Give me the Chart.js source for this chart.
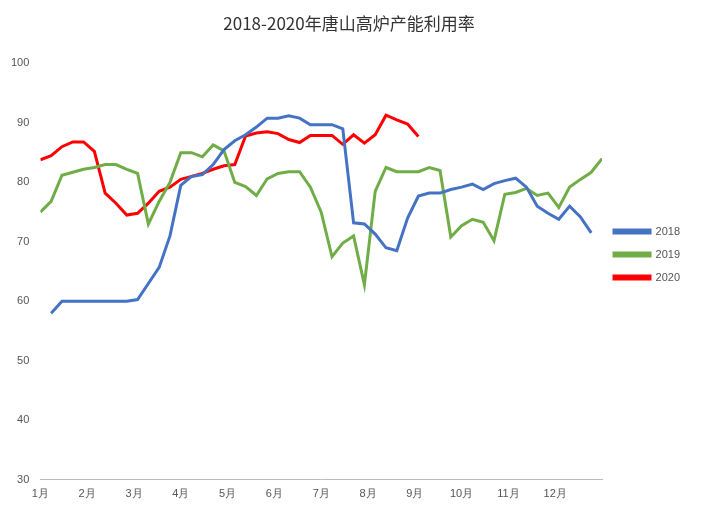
<!DOCTYPE html>
<html><head><meta charset="utf-8">
<script src="https://cdn.jsdelivr.net/npm/chart.js@4"></script>
<style>body{margin:0;background:#fff}#w{width:710px;height:518px}</style>
</head><body><div id="w"><canvas id="c"></canvas></div>
<script>
const months=['1月','2月','3月','4月','5月','6月','7月','8月','9月','10月','11月','12月'];
const s2018=[null,58,60,60,60,60,60,60,60,60.3,63,65.7,71,79.5,81,81.3,83,85.5,87,88,89.3,90.8,90.8,91.2,90.8,89.7,89.7,89.7,89,73.2,73,71.3,69,68.5,74,77.7,78.2,78.2,78.8,79.2,79.7,78.8,79.8,80.3,80.7,79.2,76,74.8,73.8,76,74.2,71.5];
const s2019=[75,76.8,81.2,81.7,82.2,82.5,83,83,82.2,81.5,73,76.8,80,85,85,84.3,86.3,85.3,80,79.3,77.8,80.6,81.5,81.8,81.8,79.2,75,67.5,69.8,71,62.8,78.5,82.5,81.8,81.8,81.8,82.5,82,70.8,72.7,73.8,73.3,70.2,78,78.3,79,77.8,78.2,75.8,79.2,80.5,81.7,84];
const s2020=[83.8,84.5,86,86.8,86.8,85.2,78.2,76.5,74.5,74.8,76.5,78.5,79.2,80.5,81,81.5,82.2,82.8,83,87.8,88.3,88.5,88.2,87.2,86.7,87.9,87.9,87.9,86.4,88,86.6,88,91.3,90.5,89.8,87.7];
const pts=a=>a.map((v,i)=>({x:i,y:v}));
const ds=(l,a,c)=>({label:l,data:pts(a),borderColor:c,backgroundColor:c,borderWidth:3,pointRadius:0,tension:0,spanGaps:false});
new Chart(document.getElementById('c'),{type:'line',
data:{datasets:[ds('2018',s2018,'#4472C4'),ds('2019',s2019,'#70AD47'),ds('2020',s2020,'#FF0000')]},
options:{responsive:true,maintainAspectRatio:false,animation:false,
layout:{padding:{left:8,right:20,top:5,bottom:14}},
plugins:{title:{display:true,text:'2018-2020年唐山高炉产能利用率',font:{size:17,weight:'normal',family:'Noto Sans CJK SC'},color:'#333',padding:{top:8,bottom:30}},
legend:{position:'right',labels:{boxWidth:36,boxHeight:3,font:{size:11},color:'#555',padding:12}}},
scales:{x:{type:'linear',min:0,max:52,
afterBuildTicks:ax=>{ax.ticks=[];for(let i=0;i<=12;i++)ax.ticks.push({value:i*52/12});},
ticks:{autoSkip:false,maxRotation:0,color:'#555',font:{size:11},callback:(v,i)=>months[i]||''},
grid:{display:false,drawTicks:true,tickLength:5},border:{color:'#bbb'}},
y:{min:30,max:100,ticks:{stepSize:10,color:'#555',font:{size:11}},grid:{display:false},border:{display:false}}}}});
</script></body></html>
